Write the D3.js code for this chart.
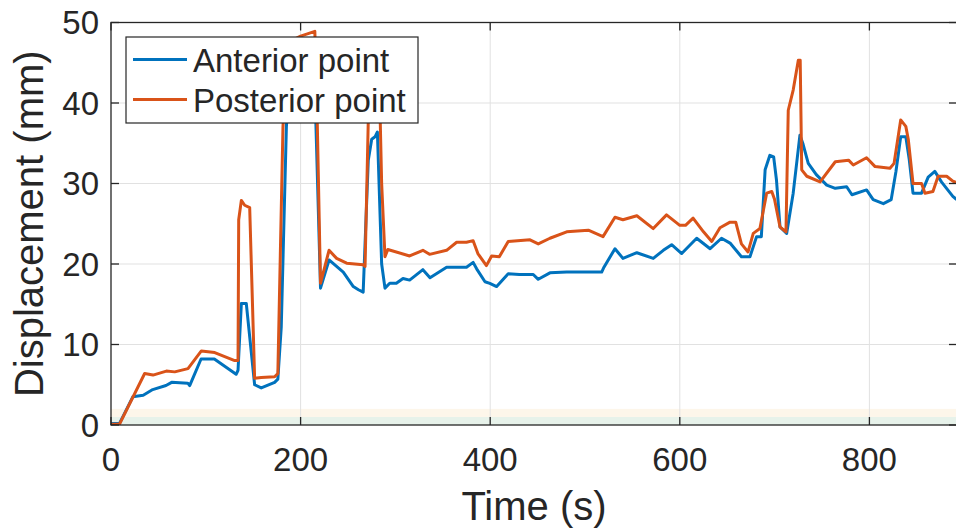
<!DOCTYPE html>
<html>
<head>
<meta charset="utf-8">
<script src="https://cdn.jsdelivr.net/npm/d3@7"></script>
<style>
  body { margin: 0; background: #fff; }
  text { font-family: "Liberation Sans", Arial, Helvetica, sans-serif; fill: #262626; }
</style>
</head>
<body>
<div id="chart"></div>
<script>
// traced series (time in s, displacement in mm)
const anteriorT = [0, 9, 23, 34, 44, 58, 64, 81, 83, 95, 109, 132, 134, 137.5, 142.7, 151.5, 158.5, 172.6, 176, 179.6, 185, 190, 200, 212, 216, 221, 230, 245, 255.6, 261, 266, 271.4, 275, 278.5, 281, 285.5, 289, 294, 301, 308, 315, 329, 336.5, 354, 364.6, 375, 382, 385.7, 394.5, 399.6, 406.8, 419, 430.7, 445.4, 450.7, 463, 480.7, 505, 517.6, 520, 531.6, 540, 554.7, 572, 582.6, 591.4, 602, 617.8, 632, 644, 653, 665, 674, 681, 686, 690, 695, 699, 702, 705.7, 712.7, 719.6, 726.7, 730, 735.5, 744, 755, 764, 776, 781.6, 797, 804, 814.7, 823, 828, 833, 838.4, 842, 846, 855, 862, 869, 876, 888, 892];
const anteriorY = [0.2, 0.2, 3.5, 3.7, 4.4, 4.9, 5.3, 5.2, 4.9, 8.2, 8.2, 6.3, 6.8, 15.1, 15.1, 5.0, 4.6, 5.3, 5.7, 12.2, 37.0, 46.5, 47.5, 47.8, 38, 17.0, 20.5, 19.0, 17.2, 16.8, 16.5, 32.9, 35.5, 35.8, 36.4, 20, 17.0, 17.6, 17.6, 18.2, 18.0, 19.3, 18.3, 19.6, 19.6, 19.6, 20.2, 19.4, 17.8, 17.6, 17.2, 18.8, 18.7, 18.7, 18.1, 18.9, 19.0, 19.0, 19.0, 19.6, 21.9, 20.7, 21.4, 20.7, 21.7, 22.4, 21.3, 23.2, 21.9, 23.2, 22.6, 20.9, 20.9, 23.4, 23.4, 31.7, 33.5, 33.3, 30.4, 24.6, 23.8, 28.8, 36.0, 34.9, 32.5, 31.1, 29.8, 29.4, 29.6, 28.6, 29.2, 28.0, 27.5, 28.0, 31.5, 35.8, 35.8, 33, 28.8, 28.8, 30.8, 31.5, 30.2, 28.4, 28.0];

const posteriorT = [0, 9, 35.5, 44.3, 58.4, 67.2, 81.2, 95.3, 109.4, 130.5, 134, 134.7, 137.5, 141, 146.3, 151.5, 158.5, 172.6, 176, 181.4, 186, 200, 215, 217, 221, 230, 238, 248.6, 266, 268, 271.4, 274, 283, 285.5, 289, 292, 315, 329, 336, 354, 364.6, 375, 382, 387, 396, 401.5, 409.6, 419, 442, 450.7, 463, 480.7, 503.5, 519, 531.6, 540, 554.7, 572, 586, 600, 606, 614, 625, 633.7, 642.4, 653, 659, 665, 672, 677.5, 684.5, 691.6, 697, 700, 705.7, 712, 714.4, 719.6, 725, 727, 728.6, 734, 748, 764, 778, 783, 797, 806, 821.7, 826, 833, 838.4, 841, 846, 855, 858.6, 867, 872.5, 881.5, 888, 892];
const posteriorY = [0.1, 0.1, 6.4, 6.2, 6.7, 6.6, 7.0, 9.2, 9.0, 8.0, 8.0, 25.5, 27.9, 27.3, 27.0, 5.8, 5.9, 6.0, 6.4, 37.0, 47.5, 48.3, 48.9, 41, 17.6, 21.7, 20.7, 20.1, 19.9, 19.7, 37.9, 43, 43, 30, 20.9, 21.8, 21.0, 21.7, 21.2, 21.7, 22.7, 22.7, 22.9, 21.3, 19.8, 21.0, 20.9, 22.8, 23.0, 22.5, 23.2, 24.0, 24.2, 23.4, 25.8, 25.5, 26.0, 24.4, 26.1, 24.8, 24.8, 25.7, 24.0, 22.8, 24.5, 25.2, 25.2, 22.5, 21.5, 23.8, 24.4, 28.8, 29.0, 28.0, 24.6, 24.0, 39.1, 41.6, 45.3, 45.3, 31.7, 30.9, 30.2, 32.7, 32.9, 32.3, 33.2, 32.1, 31.9, 32.5, 37.9, 37.1, 35.5, 30.0, 30.0, 28.8, 29.0, 30.9, 30.9, 30.3, 30.1];

const seriesNames = ['Anterior point', 'Posterior point'];
const seriesColors = ['#0072BD', '#D95319'];
const xTicks = [0, 200, 400, 600, 800];
const yTicks = [0, 10, 20, 30, 40, 50];
// shaded bands near zero: [from, to, colour]
const bands = [[0, 1, '#e7f2ea'], [1, 2, '#fdf6ea']];

const width = 956, height = 531;
const margin = {top: 22.5, right: -1, bottom: 106, left: 111};

const svg = d3.select('#chart').append('svg')
  .attr('width', width).attr('height', height);

const x = d3.scaleLinear()
  .domain([0, 892.4])
  .range([margin.left, width - margin.right]);

const y = d3.scaleLinear()
  .domain([0, 50])
  .range([height - margin.bottom, margin.top]);

svg.append('clipPath').attr('id', 'clip')
  .append('rect')
  .attr('x', x(0)).attr('y', y(50))
  .attr('width', x(892.4) - x(0)).attr('height', y(0) - y(50));

// bands
svg.append('g').selectAll('rect')
  .data(bands)
  .enter().append('rect')
  .attr('x', x(0))
  .attr('width', x(892.4) - x(0))
  .attr('y', d => y(d[1]))
  .attr('height', d => y(d[0]) - y(d[1]))
  .attr('fill', d => d[2]);

// grid
const grid = svg.append('g').attr('stroke', '#e1e1e1').attr('stroke-width', 1);
grid.selectAll('.gx').data(xTicks.slice(1)).enter().append('line')
  .attr('x1', d => x(d)).attr('x2', d => x(d))
  .attr('y1', y(0)).attr('y2', y(50));
grid.selectAll('.gy').data(yTicks.slice(1, -1)).enter().append('line')
  .attr('x1', x(0)).attr('x2', x(892.4))
  .attr('y1', d => y(d)).attr('y2', d => y(d));

// lines
const line = d3.line().x(d => x(d[0])).y(d => y(d[1]));
const series = [
  d3.zip(anteriorT, anteriorY),
  d3.zip(posteriorT, posteriorY)
];

svg.append('g').attr('clip-path', 'url(#clip)')
  .selectAll('path')
  .data(series)
  .enter().append('path')
  .attr('d', line)
  .attr('fill', 'none')
  .attr('stroke', (d, i) => seriesColors[i])
  .attr('stroke-width', 3)
  .attr('stroke-linejoin', 'round');

// axes (matlab style, ticks inside, box on)
const axisG = svg.append('g').attr('stroke', '#262626').attr('stroke-width', 1.3);
axisG.append('rect')
  .attr('x', x(0)).attr('y', y(50))
  .attr('width', x(892.4) - x(0)).attr('height', y(0) - y(50))
  .attr('fill', 'none');

const tl = 8;
xTicks.forEach(t => {
  axisG.append('line').attr('x1', x(t)).attr('x2', x(t)).attr('y1', y(0)).attr('y2', y(0) - tl);
  axisG.append('line').attr('x1', x(t)).attr('x2', x(t)).attr('y1', y(50)).attr('y2', y(50) + tl);
});
yTicks.forEach(t => {
  axisG.append('line').attr('x1', x(0)).attr('x2', x(0) + tl).attr('y1', y(t)).attr('y2', y(t));
  axisG.append('line').attr('x1', x(892.4)).attr('x2', x(892.4) - tl).attr('y1', y(t)).attr('y2', y(t));
});

svg.append('g').selectAll('text')
  .data(xTicks)
  .enter().append('text')
  .attr('x', d => x(d))
  .attr('y', y(0) + 46)
  .attr('text-anchor', 'middle')
  .attr('font-size', 33)
  .text(d => d);

svg.append('g').selectAll('text')
  .data(yTicks)
  .enter().append('text')
  .attr('x', x(0) - 12)
  .attr('y', d => y(d))
  .attr('dy', '0.36em')
  .attr('text-anchor', 'end')
  .attr('font-size', 33)
  .text(d => d);

svg.append('text')
  .attr('x', (x(0) + x(892.4)) / 2)
  .attr('y', 520)
  .attr('text-anchor', 'middle')
  .attr('font-size', 40)
  .text('Time (s)');

svg.append('text')
  .attr('transform', `translate(43, ${(y(0) + y(50)) / 2}) rotate(-90)`)
  .attr('text-anchor', 'middle')
  .attr('font-size', 40)
  .text('Displacement (mm)');

// legend
const legend = svg.append('g');
legend.append('rect')
  .attr('x', 126).attr('y', 37)
  .attr('width', 292).attr('height', 86)
  .attr('fill', '#fff')
  .attr('stroke', '#262626').attr('stroke-width', 1.2);

seriesNames.forEach((name, i) => {
  const ly = 59.5 + i * 40;
  legend.append('line')
    .attr('x1', 133).attr('x2', 187)
    .attr('y1', ly).attr('y2', ly)
    .attr('stroke', seriesColors[i]).attr('stroke-width', 3);
  legend.append('text')
    .attr('x', 193).attr('y', ly + 12)
    .attr('font-size', 33)
    .text(name);
});
</script>
</body>
</html>
